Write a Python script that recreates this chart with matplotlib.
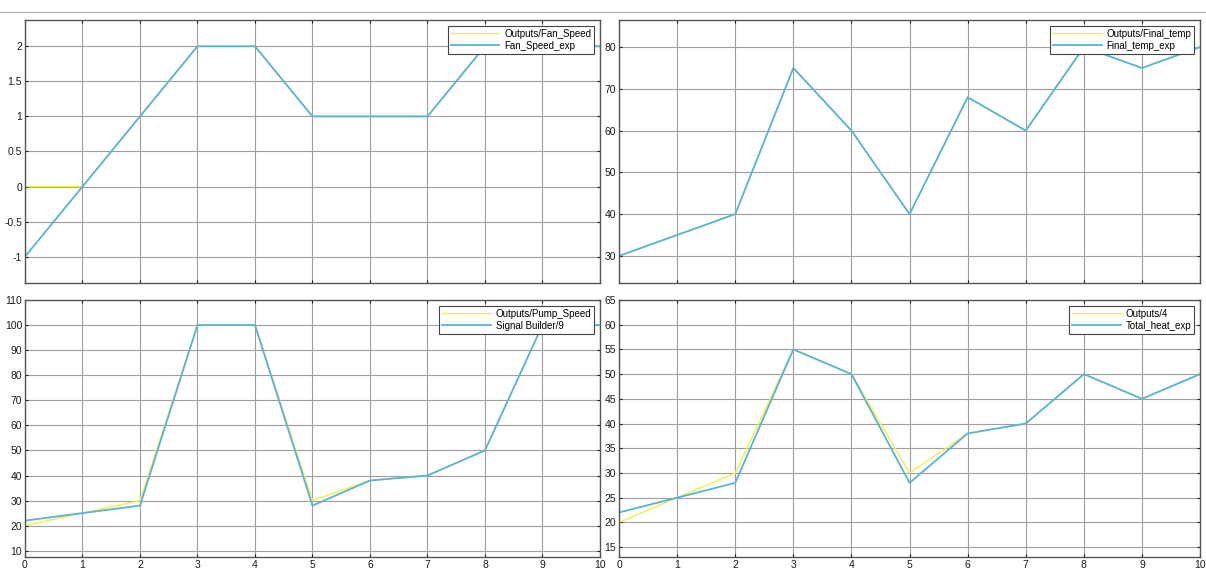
import numpy as np
import matplotlib.pyplot as plt
from matplotlib.lines import Line2D

plt.rcParams['font.family'] = ['Liberation Sans', 'DejaVu Sans']

# time axis shared by all four panels
t = [0, 1, 2, 3, 4, 5, 6, 7, 8, 9, 10]

fan_speed_out = [0, 0, 1, 2, 2, 1, 1, 1, 2, 2, 2]
fan_speed_exp = [-1, 0, 1, 2, 2, 1, 1, 1, 2, 2, 2]

final_temp_out = [30, 35, 40, 75, 60, 40, 68, 60, 80, 75, 80]
final_temp_exp = [30, 35, 40, 75, 60, 40, 68, 60, 80, 75, 80]

pump_speed_out = [20, 25, 30, 100, 100, 30, 38, 40, 50, 100, 100]
pump_speed_exp = [22, 25, 28, 100, 100, 28, 38, 40, 50, 100, 100]

total_heat_out = [20, 25, 30, 55, 50, 30, 38, 40, 50, 45, 50]
total_heat_exp = [22, 25, 28, 55, 50, 28, 38, 40, 50, 45, 50]

AMARILLO = '#f4ef4a'
AZUL = '#58b3d9'

paneles = [
    # (rect, out, exp, etiquetas, ylim, yticks, yticklabels, xlabels)
    ([0.0207, 0.5026, 0.4768, 0.4623], fan_speed_out, fan_speed_exp,
     ('Outputs/Fan_Speed', 'Fan_Speed_exp'), (-1.375, 2.375),
     [-1, -0.5, 0, 0.5, 1, 1.5, 2], ['-1', '-0.5', '0', '0.5', '1', '1.5', '2'], False),
    ([0.5133, 0.5026, 0.4818, 0.4623], final_temp_out, final_temp_exp,
     ('Outputs/Final_temp', 'Final_temp_exp'), (23.5, 86.5),
     [30, 40, 50, 60, 70, 80], None, False),
    ([0.0207, 0.0211, 0.4768, 0.4517], pump_speed_out, pump_speed_exp,
     ('Outputs/Pump_Speed', 'Signal Builder/9'), (7.5, 110),
     [10, 20, 30, 40, 50, 60, 70, 80, 90, 100, 110], None, True),
    ([0.5133, 0.0211, 0.4818, 0.4517], total_heat_out, total_heat_exp,
     ('Outputs/4', 'Total_heat_exp'), (13, 65),
     [15, 20, 25, 30, 35, 40, 45, 50, 55, 60, 65], None, True),
]

fig = plt.figure(figsize=(12.06, 5.69), dpi=100)

for rect, y_out, y_exp, etiquetas, ylim, yticks, ylabels, xlabels in paneles:
    ax = fig.add_axes(rect)
    ax.plot(t, y_out, color=AMARILLO, lw=1.0, label=etiquetas[0])
    ax.plot(t, y_exp, color=AZUL, lw=1.3, label=etiquetas[1])
    ax.set_xlim(0, 10)
    ax.set_ylim(*ylim)
    ax.set_xticks(t)
    ax.set_yticks(yticks)
    if ylabels is not None:
        ax.set_yticklabels(ylabels)
    if not xlabels:
        ax.set_xticklabels([])
    ax.grid(True, color='#9e9e9e', lw=0.8)
    ax.tick_params(direction='in', length=2, labelsize=7.5, colors='#1a1a1a',
                   top=True, right=True, pad=2)
    for s in ax.spines.values():
        s.set_color('#555555')
        s.set_linewidth(1.0)
    leg = ax.legend(loc='upper right', fontsize=7, frameon=True, fancybox=False,
                    handlelength=5, borderpad=0.3, labelspacing=0.2,
                    borderaxespad=0.6, handletextpad=0.5, framealpha=1)
    leg.get_frame().set_edgecolor('#444444')
    leg.get_frame().set_linewidth(0.8)

# barra gris superior, como en la ventana original
fig.add_artist(Line2D([0.0, 1.0], [0.979, 0.979], transform=fig.transFigure,
                      color='#bbbbbb', lw=1.0))

fig.savefig('out.png', dpi=100)
